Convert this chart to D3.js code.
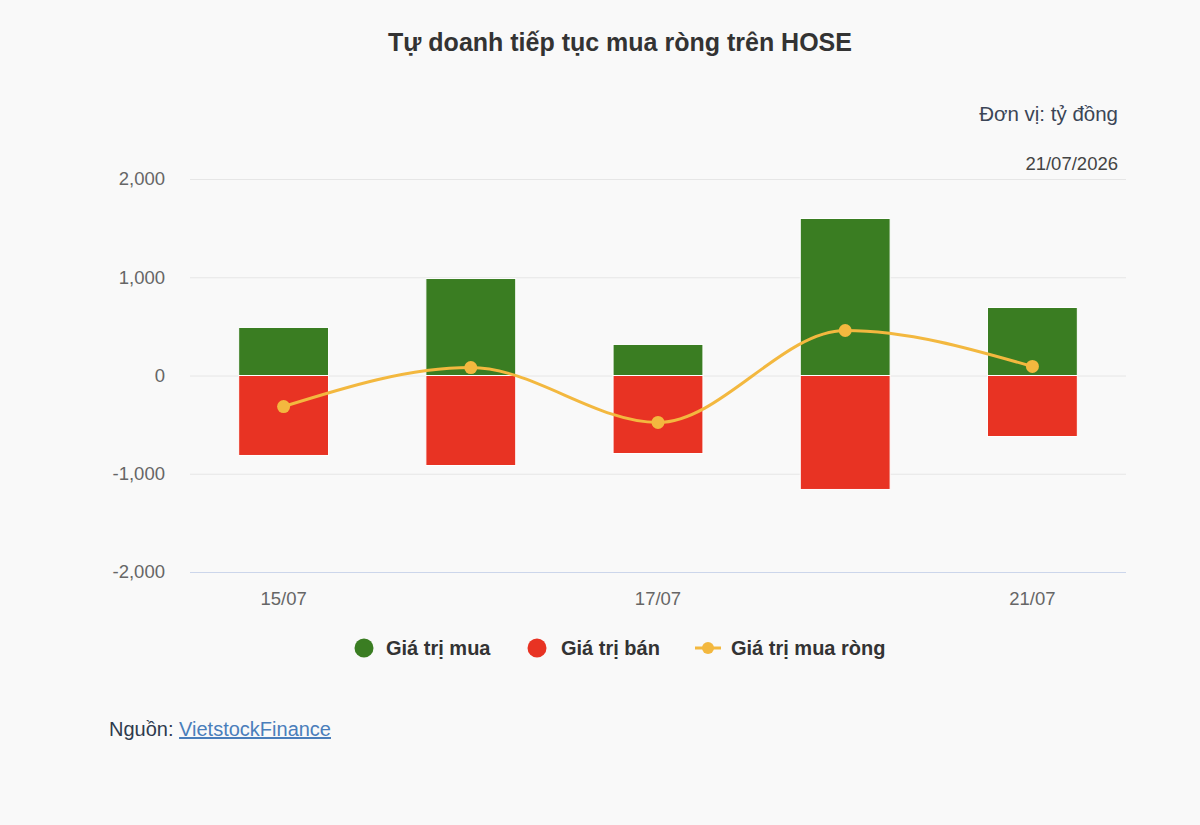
<!DOCTYPE html>
<html>
<head>
<meta charset="utf-8">
<script src="https://cdn.jsdelivr.net/npm/d3@7"></script>
<style>
    body { margin: 0; background: #f9f9f9; font-family: "Liberation Sans", Arial, sans-serif; }
    #chart { width: 1200px; height: 825px; }
</style>
</head>
<body>
<div id="chart"></div>
<script>
// Data (tỷ đồng)
const dates = ["15/07", "16/07", "17/07", "18/07", "21/07"];
const buyValues = [489, 987, 316, 1598, 692];
const sellValues = [-814, -916, -794, -1160, -621];
const netValues = [-316, 81, -478, 458, 92];
const shownDates = ["15/07", "17/07", "21/07"];
const yTicks = [-2000, -1000, 0, 1000, 2000];

const W = 1200, H = 825;
const plot = { left: 190, right: 1126, top: 179, bottom: 572 };

const svg = d3.select("#chart")
    .append("svg")
    .attr("width", W)
    .attr("height", H)
    .style("font-family", "'Liberation Sans', Arial, sans-serif");

svg.append("rect").attr("width", W).attr("height", H).attr("fill", "#f9f9f9");

// Scales
const x = d3.scaleBand()
    .domain(dates)
    .range([plot.left, plot.right])
    .paddingInner(0.52)
    .paddingOuter(0.26);

const y = d3.scaleLinear()
    .domain([-2000, 2000])
    .range([plot.bottom, plot.top]);

// Title
svg.append("text")
    .attr("x", 620)
    .attr("y", 51)
    .attr("text-anchor", "middle")
    .style("font-size", "25px")
    .style("font-weight", "bold")
    .attr("fill", "#333")
    .text("Tự doanh tiếp tục mua ròng trên HOSE");

// Unit + date
svg.append("text")
    .attr("x", 1118).attr("y", 121)
    .attr("text-anchor", "end")
    .style("font-size", "20.5px")
    .attr("fill", "#3b4556")
    .text("Đơn vị: tỷ đồng");

svg.append("text")
    .attr("x", 1118).attr("y", 170)
    .attr("text-anchor", "end")
    .style("font-size", "18.5px")
    .attr("fill", "#444")
    .text("21/07/2026");

// Grid lines + y labels
const fmt = d3.format(",");
const yAxis = svg.append("g")
    .attr("transform", `translate(${plot.left},0)`)
    .call(d3.axisLeft(y)
        .tickValues(yTicks)
        .tickSize(-(plot.right - plot.left))
        .tickPadding(25)
        .tickFormat(d => fmt(d).replace("\u2212", "-")));

yAxis.select(".domain").remove();
yAxis.selectAll(".tick line")
    .attr("stroke", d => d === -2000 ? "#ccd6eb" : "#e6e6e6")
    .attr("stroke-width", 1);
yAxis.selectAll(".tick text")
    .style("font-size", "18.5px")
    .attr("fill", "#666");

// X labels
const xAxis = svg.append("g")
    .attr("transform", `translate(0,${plot.bottom})`)
    .call(d3.axisBottom(x).tickValues(shownDates).tickSize(0).tickPadding(20));
xAxis.select(".domain").remove();
xAxis.selectAll(".tick text")
    .style("font-size", "18.5px")
    .attr("fill", "#666");

// Bars
const green = "#3a7d22", red = "#e83323", gold = "#f3b83f";

svg.append("g").selectAll("rect")
    .data(dates)
    .join("rect")
    .attr("x", d => x(d))
    .attr("y", (d, i) => y(buyValues[i]))
    .attr("width", x.bandwidth())
    .attr("height", (d, i) => y(0) - y(buyValues[i]))
    .attr("fill", green)
    .attr("stroke", "#fff")
    .attr("stroke-width", 1);

svg.append("g").selectAll("rect")
    .data(dates)
    .join("rect")
    .attr("x", d => x(d))
    .attr("y", y(0))
    .attr("width", x.bandwidth())
    .attr("height", (d, i) => y(sellValues[i]) - y(0))
    .attr("fill", red)
    .attr("stroke", "#fff")
    .attr("stroke-width", 1);

// Net line
const line = d3.line()
    .x((d, i) => x(dates[i]) + x.bandwidth() / 2)
    .y(d => y(d))
    .curve(d3.curveMonotoneX);

svg.append("path")
    .datum(netValues)
    .attr("d", line)
    .attr("fill", "none")
    .attr("stroke", gold)
    .attr("stroke-width", 3);

svg.append("g").selectAll("circle")
    .data(netValues)
    .join("circle")
    .attr("cx", (d, i) => x(dates[i]) + x.bandwidth() / 2)
    .attr("cy", d => y(d))
    .attr("r", 6.5)
    .attr("fill", gold);

// Legend
const legend = svg.append("g").style("font-size", "20px").style("font-weight", "bold");

legend.append("circle").attr("cx", 364).attr("cy", 648).attr("r", 9.5).attr("fill", green);
legend.append("text").attr("x", 386).attr("y", 655).attr("fill", "#333").text("Giá trị mua");

legend.append("circle").attr("cx", 537).attr("cy", 648).attr("r", 9.5).attr("fill", red);
legend.append("text").attr("x", 561).attr("y", 655).attr("fill", "#333").text("Giá trị bán");

legend.append("line").attr("x1", 695).attr("x2", 721).attr("y1", 648).attr("y2", 648)
    .attr("stroke", gold).attr("stroke-width", 3);
legend.append("circle").attr("cx", 708).attr("cy", 648).attr("r", 6).attr("fill", gold);
legend.append("text").attr("x", 731).attr("y", 655).attr("fill", "#333").text("Giá trị mua ròng");

// Source
const src = svg.append("text")
    .attr("x", 109).attr("y", 736)
    .style("font-size", "20px")
    .attr("fill", "#2e3a4d");
src.append("tspan").text("Nguồn: ");
src.append("tspan")
    .attr("fill", "#4a7ebb")
    .style("text-decoration", "underline")
    .text("VietstockFinance");
</script>
</body>
</html>
